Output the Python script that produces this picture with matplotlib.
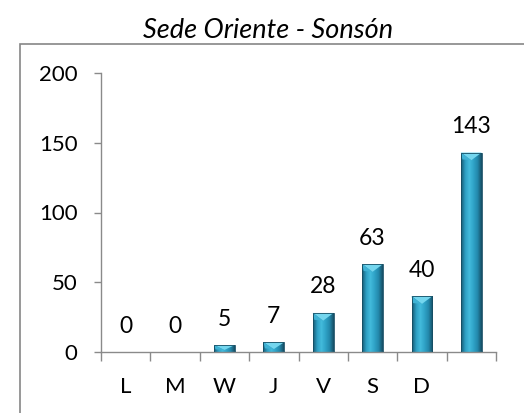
import numpy as np
import matplotlib.pyplot as plt
from matplotlib.patches import Rectangle, Polygon
from matplotlib.colors import LinearSegmentedColormap

title = 'Sede Oriente - Sonsón'
categories = ['L', 'M', 'W', 'J', 'V', 'S', 'D', '']
values = [0, 0, 5, 7, 28, 63, 40, 143]
yticks = [0, 50, 100, 150, 200]

plt.rcParams['font.family'] = ['Lato', 'DejaVu Sans']

fig = plt.figure(figsize=(5.24, 4.13), dpi=100)
fig.patches.append(Rectangle((20 / 524, -0.1), 1.2, 1.1 - 44 / 413,
                             transform=fig.transFigure, fill=False,
                             edgecolor='#868686', linewidth=1.2))
fig.text(268 / 524, 0.925, title, ha='center', va='center',
         fontsize=19.5, style='italic')

ax = fig.add_axes([101 / 524, 61 / 413, 395 / 524, 279 / 413])

# horizontal shading across each bar
shade = LinearSegmentedColormap.from_list(
    'bar', ['#175a73', '#2e9fc4', '#43bbdc', '#2fa3c7', '#2388ab', '#164e64'])
grad = np.linspace(0, 1, 64).reshape(1, -1)
width = 0.42

x = np.arange(len(categories))
bars = ax.bar(x, values, width=width, color='none', edgecolor='#164e64',
              linewidth=0.6, zorder=3)
for xi, v, b in zip(x, values, bars):
    if v <= 0:
        continue
    im = ax.imshow(grad, cmap=shade, aspect='auto', zorder=2,
                   extent=(xi - width / 2, xi + width / 2, 0, v))
    im.set_clip_path(b)
    d = min(5.5, v * 0.7)
    tri = Polygon([(xi - width / 2, v), (xi + width / 2, v), (xi, v - d)],
                  closed=True, facecolor='#74d6ee', edgecolor='none', zorder=2.5)
    ax.add_patch(tri)
    ax.add_patch(Polygon([(xi - width / 2, v), (xi - width / 2 + 0.03, v - d * 0.9),
                          (xi, v - d)], closed=True, facecolor='#3fb2d4',
                         edgecolor='none', zorder=2.6))

for xi, v in zip(x, values):
    ax.annotate(str(v), (xi, v), xytext=(0, 14), textcoords='offset points',
                ha='center', va='baseline', fontsize=16.5)

ax.set_xlim(-0.5, len(categories) - 0.5)
ax.set_ylim(0, 200)
ax.set_yticks(yticks)
ax.set_xticks(x)
ax.set_xticklabels(categories)
ax.set_xticks(np.arange(len(categories) + 1) - 0.5, minor=True)

for side in ['top', 'right']:
    ax.spines[side].set_visible(False)
for side in ['left', 'bottom']:
    ax.spines[side].set_color('#8a8a8a')
    ax.spines[side].set_linewidth(1.0)

ax.tick_params(axis='y', direction='out', length=5, width=1.0, color='#8a8a8a',
               labelsize=16, pad=12)
ax.tick_params(axis='x', which='major', length=0, labelsize=16, pad=18)
ax.tick_params(axis='x', which='minor', direction='out', length=6.5, width=1.0,
               color='#8a8a8a')

fig.savefig('out.png', dpi=100)
